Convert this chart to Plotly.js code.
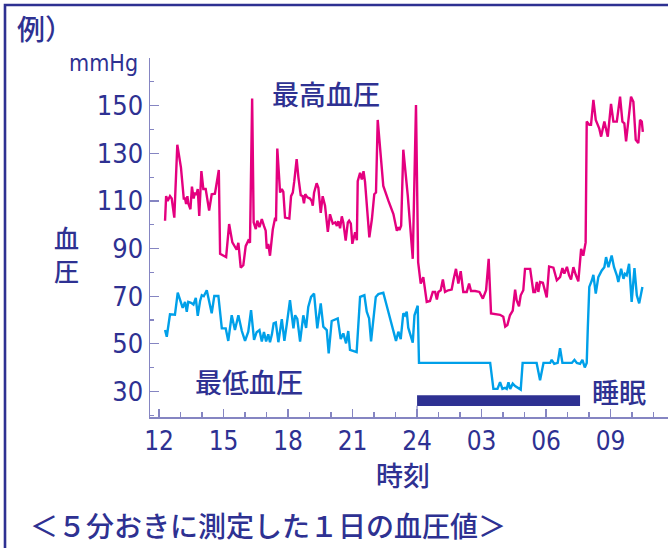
<!DOCTYPE html>
<html><head><meta charset="utf-8">
<script src="https://cdn.plot.ly/plotly-3.0.1.min.js"></script>
<style>html,body{margin:0;padding:0;background:#fff}#chart{width:668px;height:548px}</style>
</head><body><div id="chart"></div>
<script>
// systolic (最高血圧) readings: hour of day (24+ = next morning) and mmHg
const sysHours = [12.28,12.33,12.40,12.51,12.59,12.71,12.85,13.02,13.15,13.21,13.26,13.32,13.36,13.46,13.53,13.61,13.67,13.73,13.80,13.87,13.97,14.06,14.17,14.33,14.45,14.60,14.78,14.84,15.12,15.26,15.41,15.53,15.61,15.69,15.80,15.92,16.03,16.15,16.23,16.33,16.40,16.50,16.57,16.67,16.78,16.88,16.96,17.01,17.08,17.16,17.29,17.40,17.44,17.50,17.63,17.71,17.78,17.86,18.06,18.14,18.22,18.29,18.40,18.48,18.59,18.68,18.74,18.80,18.90,19.02,19.10,19.15,19.21,19.33,19.41,19.52,19.61,19.72,19.85,19.95,20.08,20.20,20.27,20.34,20.42,20.50,20.57,20.68,20.78,20.84,20.92,20.99,21.12,21.20,21.24,21.35,21.43,21.51,21.58,21.78,21.90,22.01,22.09,22.17,22.43,22.67,22.90,23.06,23.13,23.18,23.26,23.36,23.57,23.80,23.95,24.05,24.17,24.29,24.45,24.60,24.73,24.84,24.92,24.99,25.10,25.20,25.30,25.45,25.61,25.69,25.81,25.92,26.03,26.15,26.31,26.42,26.51,26.70,26.90,27.06,27.21,27.33,27.44,27.86,28.01,28.10,28.20,28.32,28.45,28.56,28.63,28.74,28.82,28.94,29.02,29.26,29.41,29.49,29.57,29.64,29.72,29.85,29.95,30.03,30.14,30.34,30.50,30.65,30.76,30.85,30.97,31.07,31.16,31.27,31.38,31.50,31.63,31.73,31.84,31.89,32.01,32.09,32.20,32.31,32.47,32.56,32.71,32.87,33.02,33.13,33.29,33.44,33.55,33.64,33.72,33.86,33.95,34.06,34.17,34.29,34.37,34.45,34.50];
const sysValues = [101.7,112,110,112,111,103,133.6,124,111,111,108.7,112,109,106.5,116,111,113.5,112.5,115,103.7,122.5,115,115,106,112.8,113,123,87.8,86.4,100.3,92.6,90.5,89.5,92.4,82,83,91,93.3,92.5,153,101,98.2,101.7,99,102.4,99.5,97.5,90,92,87,98,103,101.5,132,113.5,115,113.8,103,102.6,112,113.5,118.3,127.6,120,112.4,112,109,112.8,111.5,111,110,108,113.5,117.4,115.5,105,112,108,97,104.4,100.5,101,99.5,101.5,98.5,103.5,101,93.3,101,101.7,100.5,92,96.8,93.5,118.3,121.8,119,122.5,118,94.7,102.4,112.8,113.5,144,116.3,110,104.5,97.5,99,97.8,99.6,131.5,112,85.7,150.3,84.3,75.3,78,67.6,68,71.8,71.8,68.6,71.8,72.5,77,71.8,72.5,72.8,76.7,81.5,75.3,80.5,71.8,71.8,75.3,72.2,72.2,71.8,69,72.5,85.7,62.8,62.2,61.4,57.2,57.9,62,64,72.8,68.3,65.8,70.4,72.5,81.5,81.5,71.8,71.8,76,71.8,76,75.7,71.8,69.5,82.5,82,76.7,78,81.8,79.5,82.3,78.75,77,82.2,79,76.25,89.9,87,92.6,143.3,142,142,152.4,144,140.5,137,143.3,137,150.7,143.3,143.3,153.75,143.3,142.6,135,146.6,153.75,151.6,135.7,134.3,144,143.3,139];

// diastolic (最低血圧) readings
const diaHours = [12.28,12.36,12.51,12.66,12.74,12.87,12.98,13.10,13.21,13.29,13.36,13.49,13.60,13.71,13.80,13.91,13.99,14.08,14.22,14.33,14.45,14.57,14.76,14.92,15.10,15.22,15.38,15.53,15.69,15.85,16.00,16.15,16.28,16.42,16.54,16.67,16.78,16.88,16.98,17.08,17.16,17.25,17.33,17.43,17.55,17.71,17.83,17.94,18.09,18.25,18.33,18.43,18.56,18.71,18.84,18.94,19.07,19.21,19.36,19.52,19.64,19.80,19.89,20.03,20.31,20.45,20.57,20.70,20.80,20.88,21.08,21.19,21.35,21.55,21.66,21.77,21.86,22.08,22.20,22.43,22.59,22.74,22.90,23.02,23.13,23.24,23.36,23.44,23.52,23.59,23.80,23.88,24.03,24.09,27.40,27.55,27.74,27.86,27.97,28.09,28.17,28.25,28.33,28.45,28.56,28.71,28.82,28.91,29.56,29.72,29.88,30.06,30.19,30.26,30.38,30.54,30.65,30.76,31.20,31.32,31.43,31.58,31.69,31.80,31.89,31.94,32.01,32.13,32.20,32.31,32.43,32.59,32.71,32.79,32.90,33.05,33.16,33.29,33.36,33.49,33.60,33.67,33.75,33.86,33.98,34.11,34.22,34.33,34.48];
const diaValues = [55.8,53,62.4,62.4,62.2,71.5,67.9,65.1,67.6,63.5,67.6,67.2,66.5,69.3,61.8,68,70.4,70,72.5,67.6,62.8,70.1,70.1,56.5,56.5,51.25,62,55.8,62,55.4,51.25,55.1,64.2,51.7,54.9,55.8,51,55,51,54,50.7,54,58.6,59,50.7,60.4,51.25,58.2,68.3,56.5,62,60.5,51,62,56.7,65.5,69.7,71.1,56.5,67,57.2,55.8,46,59.6,60.7,52,54.4,50.2,55.4,47.5,46.8,46.5,69.7,70.4,63.5,60.7,51,69.7,70.9,71.5,66,60.5,55.1,51.25,55.1,52,62.8,62,63.5,56.8,50.5,62,66,42,42,31.1,31.1,33.9,31.1,31.5,31.1,33.9,31.1,33.3,32.3,31.5,30.8,42,42,34.7,42,42,42,43.3,41.6,42,48.2,42,42,43.3,42,41.6,43.3,40.1,42,56.5,73.9,76.7,79,71.1,78,80.8,82.2,86.4,82.2,87.1,82.2,78.8,76,81.5,77.3,79.4,78.8,83.6,67.6,81.8,70.4,67,73.9];

// sleep period (睡眠)
const sleepStart = 24;
const sleepEnd = 31.58;

// tick labels
const xTickVals = [12,15,18,21,24,27,30,33];
const xTickText = ["12","15","18","21","24","03","06","09"];
const yTickVals = [30,50,70,90,110,130,150];

const NAVY = '#2e3192';
const AXC = '#8585c2';
const PL = 150, PR = 668, PT = 58, PB = 417;
const px = v => (v - PL) / (PR - PL);
const py = v => (PB - v) / (PB - PT);
const JP = '"Noto Sans CJK JP", "Noto Sans CJK SC", sans-serif';
const NUM = '"Liberation Sans Narrow", "DejaVu Sans Condensed", "Roboto Condensed", sans-serif';

const traces = [
  {x: sysHours, y: sysValues, type: 'scatter', mode: 'lines', line: {color: '#e4007f', width: 2.4}, hoverinfo: 'skip'},
  {x: diaHours, y: diaValues, type: 'scatter', mode: 'lines', line: {color: '#00a0e9', width: 2.4}, hoverinfo: 'skip'}
];

function ann(text, x, y, size, xanchor, font) {
  return {text, x: px(x), y: py(y), xref: 'paper', yref: 'paper', showarrow: false,
    xanchor: xanchor || 'center', yanchor: 'middle',
    font: {family: font || JP, size: size, color: NAVY, weight: font ? 400 : 500}};
}

const layout = {
  width: 668, height: 548,
  margin: {l: PL, r: 668 - PR, t: PT, b: 548 - PB, pad: 0},
  paper_bgcolor: '#fff', plot_bgcolor: 'rgba(0,0,0,0)',
  showlegend: false,
  xaxis: {
    range: [11.58, 35.67], showgrid: false, zeroline: false,
    showline: true, linecolor: AXC, linewidth: 1.5,
    tickmode: 'array', tickvals: xTickVals, ticktext: xTickText,
    ticks: 'inside', ticklen: 8, tickwidth: 1.2, tickcolor: AXC,
    ticklabelstandoff: 0,
    tickfont: {family: NUM, size: 26, color: NAVY},
    minor: {tickmode: 'linear', tick0: 12, dtick: 1, ticks: 'inside', ticklen: 5, tickwidth: 1.2, tickcolor: AXC, showgrid: false}
  },
  yaxis: {
    range: [19.3, 170], showgrid: false, zeroline: false,
    showline: true, linecolor: AXC, linewidth: 1.5,
    tickmode: 'array', tickvals: yTickVals,
    ticks: 'inside', ticklen: 9, tickwidth: 1.2, tickcolor: AXC,
    tickfont: {family: NUM, size: 27, color: NAVY},
    minor: {tickmode: 'linear', tick0: 20, dtick: 10, ticks: 'inside', ticklen: 4, tickwidth: 1.2, tickcolor: AXC, showgrid: false}
  },
  shapes: [
    {type: 'rect', xref: 'paper', yref: 'paper', x0: px(5), x1: px(700), y0: py(5), y1: py(600),
      line: {color: NAVY, width: 2.6}, fillcolor: 'rgba(0,0,0,0)', layer: 'below'},
    {type: 'rect', xref: 'x', yref: 'y', x0: sleepStart, x1: sleepEnd, y0: 23.9, y1: 28.4,
      line: {width: 0}, fillcolor: NAVY},
    {type: 'line', xref: 'x', yref: 'y', x0: sleepStart, x1: sleepStart, y0: 19.3, y1: 24,
      line: {color: AXC, width: 1.2}}
  ],
  annotations: [
    ann('例）', 15, 28, 28, 'left'),
    ann('mmHg', 140, 63, 23, 'right', NUM),
    ann('最高血圧', 326, 93, 27),
    ann('最低血圧', 249, 381, 27),
    ann('睡眠', 619, 391, 27),
    ann('時刻', 403, 474, 27),
    ann('血<br>圧', 66, 253, 25),
    ann('＜５分おきに測定した１日の血圧値＞', 28, 525, 28, 'left')
  ]
};

Plotly.newPlot('chart', traces, layout, {staticPlot: true, displayModeBar: false});
</script>
</body></html>
